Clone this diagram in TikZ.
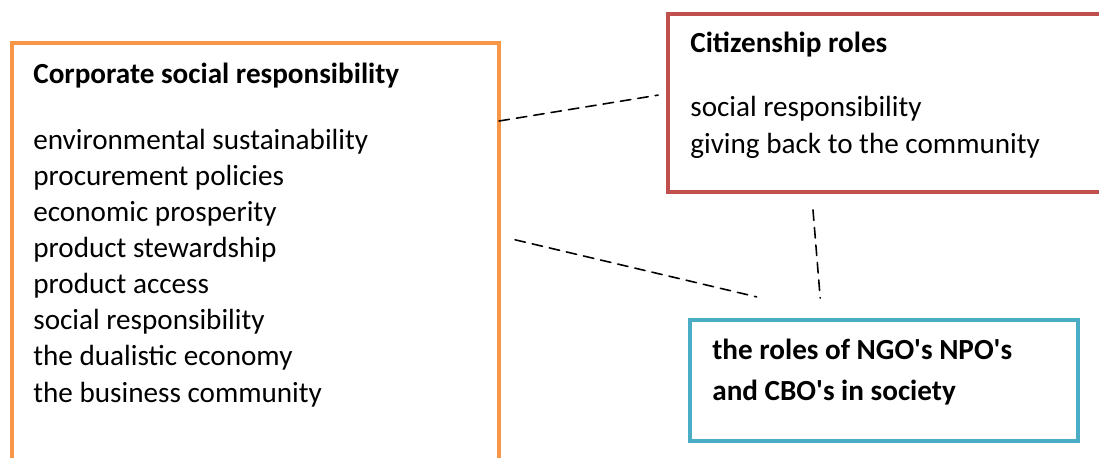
\documentclass[tikz,border=0pt]{standalone}
\usepackage{fontspec}
\setmainfont{Carlito}
\usepackage{tikz}
\usetikzlibrary{arrows}
\usetikzlibrary{calc}
\colorlet{background}{white}
\definecolor{penColor}{HTML}{F79646}
\definecolor{penColor2}{HTML}{C0504D}
\definecolor{penColor3}{HTML}{4BACC6}
\tikzset{box/.style={draw,line width=2.3pt,outer sep=0pt,inner sep=0pt,anchor=north west},
  boxtext/.style={anchor=base west,inner sep=0pt,align=left,font=\fontsize{16.6}{20.5}\selectfont},
  link/.style={black,line width=0.9pt,dash pattern=on 6pt off 4pt}}

\begin{document}
\begin{tikzpicture}[line cap=round]

  \useasboundingbox (0,0) rectangle (21.98,9.14);
  \clip (0,0) rectangle (21.98,9.14);

  % the three boxes
  \node [box,penColor,minimum width=9.74cm,minimum height=9cm] (csr) at (0.24,8.28) {};
  \node [box,penColor2,minimum width=9.2cm,minimum height=3.56cm] (cit) at (13.36,8.86) {};
  \node [box,penColor3,minimum width=7.76cm,minimum height=2.42cm] (ngo) at (13.8,2.74) {};

  % base anchor sits on the last line
  \node [boxtext] (csrtext) at ($(csr.north west)+(0.42,-7.18)$)
    {\textbf{Corporate social responsibility}\\[0.6cm]
     environmental sustainability\\
     procurement policies\\
     economic prosperity\\
     product stewardship\\
     product access\\
     social responsibility\\
     the dualistic economy\\
     the business community};

  \node [boxtext] (cittext) at ($(cit.north west)+(0.44,-2.78)$)
    {\textbf{Citizenship roles}\\[0.56cm]
     social responsibility\\
     giving back to the community};

  \node [boxtext,font=\fontsize{16.6}{22.8}\selectfont\bfseries] (ngotext) at ($(ngo.north west)+(0.44,-1.6)$)
    {the roles of NGO\textquotesingle s NPO\textquotesingle s\\
     and CBO\textquotesingle s in society};

  % dashed links
  \draw [link,shorten >=0.2cm] ($(csr.north east)+(0,-1.56)$) -- ($(cit.north west)+(0,-1.59)$);
  \draw [link,shorten <=0.33cm,shorten >=2.01cm] ($(csr.north east)+(0,-3.86)$) -- ($(ngo.north west)+(3.29,0)$);
  \draw [link,shorten <=0.36cm,shorten >=0.44cm] ($(cit.south west)+(2.87,0)$) -- ($(ngo.north west)+(2.64,0)$);

\end{tikzpicture}
\end{document}
